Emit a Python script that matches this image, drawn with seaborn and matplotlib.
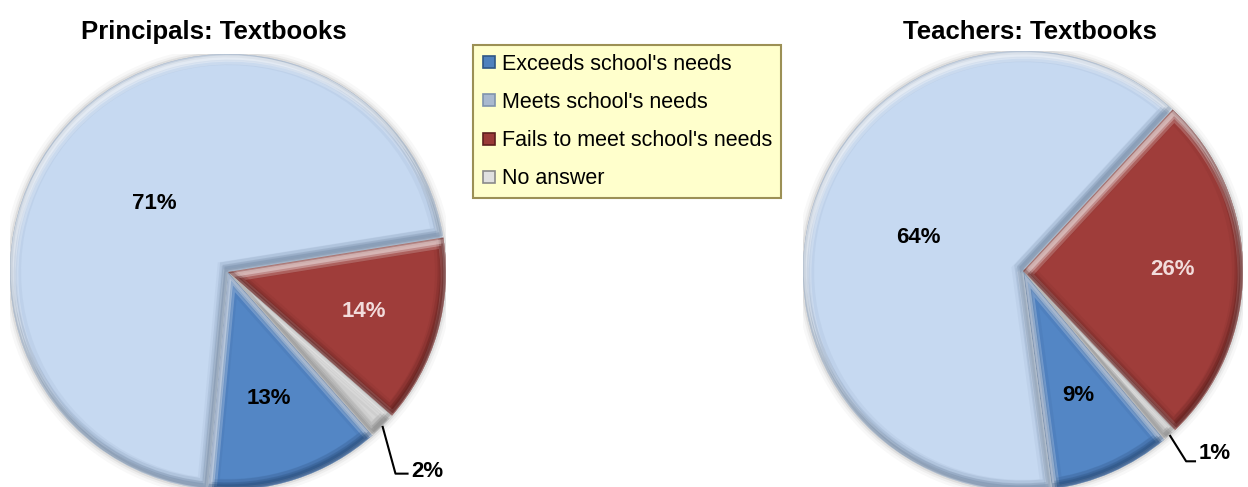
import matplotlib
matplotlib.use("Agg")
import numpy as np
import matplotlib.pyplot as plt
import matplotlib.transforms as mtransforms
from matplotlib.patches import Wedge, Circle
from matplotlib.lines import Line2D
import seaborn as sns

# Survey answers: "Is the supply of textbooks adequate?"
categories = ["Exceeds school's needs", "Meets school's needs",
              "Fails to meet school's needs", "No answer"]
principals = [13, 71, 14, 2]
teachers = [9, 64, 26, 1]
chart_titles = ["Principals: Textbooks", "Teachers: Textbooks"]

sns.set_theme(style="white")
plt.rcParams["font.family"] = ["Liberation Sans", "DejaVu Sans"]

palette = ["#5386c5", "#c6d9f1", "#9f3d3a", "#d6d6d6"]
shade = ["#1f3f66", "#5f7590", "#4a1615", "#6a6a6a"]
edge_dark = ["#2f5685", "#7f93ad", "#5e1f1d", "#8a8a8a"]
text_colors = ["black", "black", "#f2dcdb", "black"]

W, H = 1248, 487
fig = plt.figure(figsize=(W / 100, H / 100), dpi=100)
fig.patch.set_facecolor("white")


def pie_axes(cx, cy, r):
    return fig.add_axes([(cx - r) / W, (H - cy - r) / H, 2 * r / W, 2 * r / H])


def shifted(ax, dx, dy):
    return ax.transData + mtransforms.ScaledTranslation(dx / 100, dy / 100,
                                                        fig.dpi_scale_trans)


def stroke(ax, wedge, color, lw, alpha, trans, z):
    p = Wedge((0, 0), 1, wedge.theta1, wedge.theta2, fill=False,
              edgecolor=color, linewidth=lw, alpha=alpha, transform=trans,
              zorder=z)
    ax.add_patch(p)
    p.set_clip_path(wedge)


def bevel(ax, wedge, dark):
    # soft inner darkening along every edge
    for lw, a in [(16, 0.07), (10, 0.08), (5, 0.10)]:
        stroke(ax, wedge, dark, lw, a, ax.transData, 3)
    # highlight on edges facing the light, shade on the others
    for lw, a in [(10, 0.2), (6, 0.3), (3, 0.35)]:
        stroke(ax, wedge, "white", lw, a, shifted(ax, 1.5, -3.5), 4)
        stroke(ax, wedge, dark, lw, a * 0.7, shifted(ax, -1.5, 3.5), 4)


def draw_pie(ax, values, start, radii, leader):
    # soft shadow around the rim
    for lw, a in [(10, 0.04), (6, 0.06), (3, 0.10)]:
        ax.add_patch(Circle((0, 0), 1.0, fill=False, edgecolor="#505050",
                            linewidth=lw, alpha=a, zorder=0))
    wedges, _ = ax.pie(values, colors=palette, startangle=start,
                       counterclock=False, radius=1.0,
                       wedgeprops=dict(linewidth=0))
    for w, d in zip(wedges, shade):
        w.set_zorder(1)
        bevel(ax, w, d)
    for i, (w, v) in enumerate(zip(wedges, values)):
        mid = np.deg2rad((w.theta1 + w.theta2) / 2)
        if radii[i] is not None:
            ax.text(radii[i] * np.cos(mid), radii[i] * np.sin(mid), f"{v}%",
                    ha="center", va="center", fontsize=16, fontweight="bold",
                    color=text_colors[i], zorder=6)
        else:
            sx, sy = np.cos(mid), np.sin(mid)
            ex, ey, run, ty = leader
            ax.plot([sx, sx + ex, sx + ex + run], [sy, ey, ey],
                    color="black", linewidth=1.5, zorder=6, clip_on=False,
                    solid_capstyle="butt")
            ax.text(sx + ex + run + 0.012, ty, f"{v}%", ha="left", va="center",
                    fontsize=16, fontweight="bold", color="black", zorder=6)
    ax.set_xlim(-1, 1)
    ax.set_ylim(-1, 1)
    ax.set_aspect("equal")
    ax.set_axis_off()


ax_left = pie_axes(228, 272, 218)
draw_pie(ax_left, principals, 311.5, [0.61, 0.46, 0.65, None],
         (0.06, -0.925, 0.06, -0.915))
ax_right = pie_axes(1023, 271, 220)
draw_pie(ax_right, teachers, 310, [0.62, 0.50, 0.68, None],
         (0.075, -0.865, 0.045, -0.83))

fig.text(213.5 / W, 1 - 39 / H, chart_titles[0], ha="center", va="baseline",
         fontsize=18.5, fontweight="bold", color="black")
fig.text(1030 / W, 1 - 39 / H, chart_titles[1], ha="center", va="baseline",
         fontsize=18.5, fontweight="bold", color="black")

handles = [Line2D([], [], marker="s", linestyle="none", markersize=9,
                  markerfacecolor=c, markeredgecolor=e, markeredgewidth=1.2)
           for c, e in zip(["#4f81bd", "#a9b9cf", "#9a3a37", "#e0e0e0"], edge_dark)]
leg = fig.legend(handles, categories, loc="upper left",
                 bbox_to_anchor=(473 / W, 1 - 45 / H), borderaxespad=0,
                 frameon=True, fancybox=False, framealpha=1,
                 facecolor="#ffffcc", edgecolor="#9c9055", fontsize=15.5,
                 handlelength=0.7, handletextpad=0.25, labelspacing=0.8,
                 borderpad=0.4)
leg.get_frame().set_linewidth(1.5)
for t in leg.get_texts():
    t.set_color("black")

fig.savefig("out.png", dpi=100)
